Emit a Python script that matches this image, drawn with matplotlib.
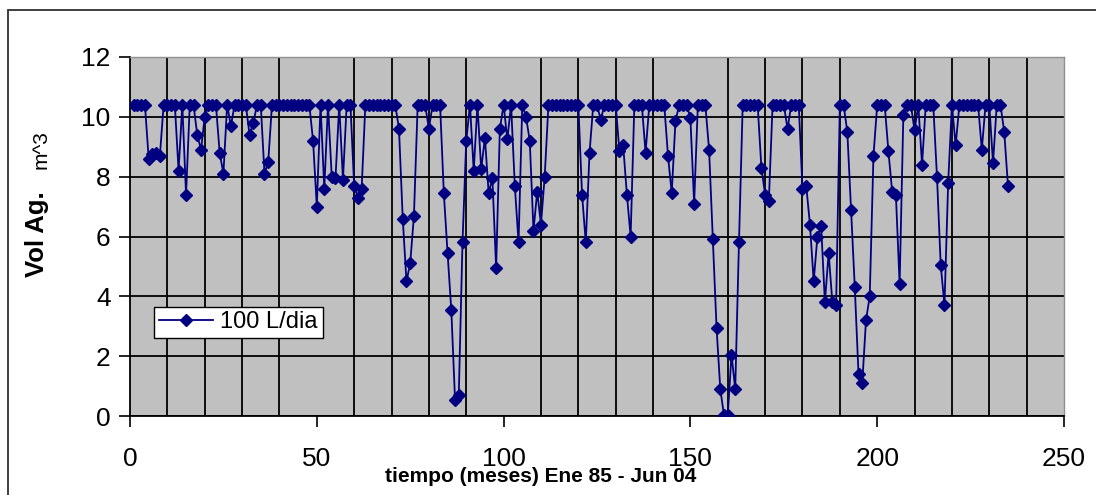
import numpy as np
from matplotlib import pyplot as plt
from matplotlib.patches import Rectangle

plt.rc("font", family="Liberation Sans")

# volumen de agua almacenado (m^3), un valor por mes, Ene 85 - Jun 04
vol = [
    10.4, 10.4, 10.4, 10.4, 8.6, 8.75, 8.8, 8.7, 10.4, 10.4,
    10.4, 10.4, 8.2, 10.4, 7.4, 10.4, 10.4, 9.4, 8.9, 10.0,
    10.4, 10.4, 10.4, 8.8, 8.1, 10.4, 9.7, 10.4, 10.4, 10.4,
    10.4, 9.4, 9.8, 10.4, 10.4, 8.1, 8.5, 10.4, 10.4, 10.4,
    10.4, 10.4, 10.4, 10.4, 10.4, 10.4, 10.4, 10.4, 9.2, 7.0,
    10.4, 7.6, 10.4, 8.0, 7.95, 10.4, 7.9, 10.4, 10.4, 7.7,
    7.3, 7.6, 10.4, 10.4, 10.4, 10.4, 10.4, 10.4, 10.4, 10.4,
    10.4, 9.6, 6.6, 4.5, 5.1, 6.7, 10.4, 10.4, 10.4, 9.6,
    10.4, 10.4, 10.4, 7.45, 5.45, 3.55, 0.55, 0.7, 5.8, 9.2,
    10.4, 8.2, 10.4, 8.25, 9.3, 7.45, 7.95, 4.95, 9.6, 10.4,
    9.25, 10.4, 7.7, 5.8, 10.4, 10.0, 9.2, 6.2, 7.5, 6.4,
    8.0, 10.4, 10.4, 10.4, 10.4, 10.4, 10.4, 10.4, 10.4, 10.4,
    7.4, 5.8, 8.8, 10.4, 10.4, 9.9, 10.4, 10.4, 10.4, 10.4,
    8.85, 9.05, 7.4, 6.0, 10.4, 10.4, 10.4, 8.8, 10.4, 10.4,
    10.4, 10.4, 10.4, 8.7, 7.45, 9.85, 10.4, 10.4, 10.4, 9.95,
    7.1, 10.4, 10.4, 10.4, 8.9, 5.9, 2.95, 0.9, 0.02, 0.02,
    2.05, 0.9, 5.8, 10.4, 10.4, 10.4, 10.4, 10.4, 8.3, 7.4,
    7.2, 10.4, 10.4, 10.4, 10.4, 9.6, 10.4, 10.4, 10.4, 7.6,
    7.7, 6.4, 4.5, 6.0, 6.35, 3.8, 5.45, 3.8, 3.7, 10.4,
    10.4, 9.5, 6.9, 4.3, 1.4, 1.1, 3.2, 4.0, 8.7, 10.4,
    10.4, 10.4, 8.85, 7.5, 7.4, 4.4, 10.05, 10.4, 10.4, 9.55,
    10.4, 8.4, 10.4, 10.4, 10.4, 8.0, 5.05, 3.7, 7.8, 10.4,
    9.05, 10.4, 10.4, 10.4, 10.4, 10.4, 10.4, 8.9, 10.4, 10.4,
    8.45, 10.4, 10.4, 9.5, 7.7,
]
meses = np.arange(1, len(vol) + 1)
serie = "100 L/dia"

navy = "#000080"

fig = plt.figure(figsize=(10.96, 4.95), dpi=100)
ax = fig.add_axes([130 / 1096, 79 / 495, 934 / 1096, 359 / 495])
ax.set_facecolor("#c0c0c0")

ax.plot(meses, vol, color=navy, lw=1.3, marker="D", ms=6.3,
        mec=navy, mfc=navy, label=serie, zorder=3)

ax.set_xlim(0, 250)
ax.set_ylim(0, 12)
ax.set_xticks(np.arange(0, 251, 50))
ax.set_xticks(np.arange(0, 251, 10), minor=True)
ax.set_yticks(np.arange(0, 13, 2))
ax.grid(True, which="major", axis="y", color="black", lw=1.3)
ax.grid(True, which="minor", axis="x", color="black", lw=1.3)
ax.set_axisbelow(True)

ax.tick_params(axis="x", which="major", direction="out", length=8, width=1.2,
               labelsize=19, pad=14)
ax.tick_params(axis="x", which="minor", length=0)
ax.tick_params(axis="y", direction="out", length=8, width=1.2,
               labelsize=19, pad=6)

for side in ["top", "right"]:
    ax.spines[side].set_color("#909090")
    ax.spines[side].set_linewidth(1)
for side in ["left", "bottom"]:
    ax.spines[side].set_color("black")
    ax.spines[side].set_linewidth(1.3)

fig.text(541 / 1096, 1 - 477 / 495, "tiempo (meses) Ene 85 - Jun 04",
         ha="center", va="center", fontsize=15, fontweight="bold")
fig.text(37 / 1096, 1 - 234 / 495, "Vol Ag.", rotation=90, ha="center",
         va="center", fontsize=18.5, fontweight="bold")
fig.text(41 / 1096, 1 - 150 / 495, "m^3", rotation=90, ha="center",
         va="center", fontsize=15)

leg = ax.legend(loc="lower left", bbox_to_anchor=(0.026, 0.217), fontsize=17,
                frameon=True, fancybox=False, framealpha=1, edgecolor="black",
                handlelength=2.3, borderpad=0.2, handletextpad=0.3,
                borderaxespad=0)
leg.get_frame().set_linewidth(1.0)

# marco exterior del grafico
fig.patches.append(Rectangle((8 / 1096, -0.05), 1.1, 1.05 - 9.5 / 495,
                             transform=fig.transFigure, fill=False,
                             edgecolor="#303030", lw=1.3))

fig.savefig("out.png", dpi=100)
